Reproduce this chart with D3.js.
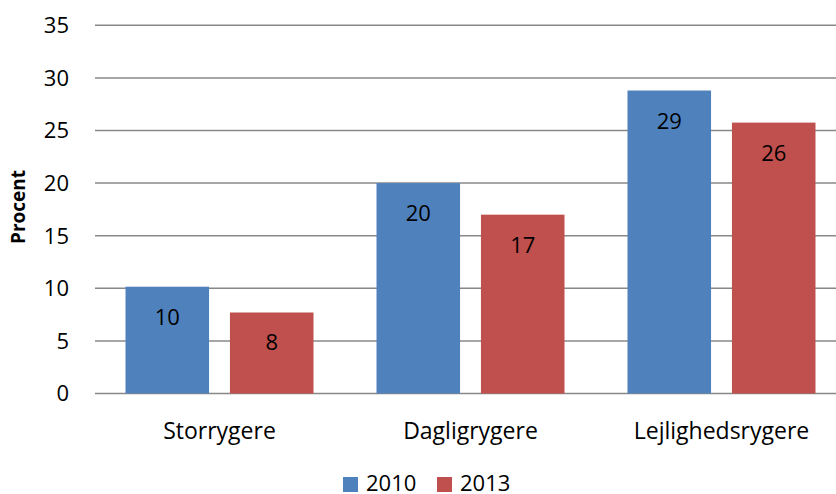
<!DOCTYPE html>
<html>
<head>
<meta charset="utf-8">
<script src="https://cdn.jsdelivr.net/npm/d3@7"></script>
<style>
  body { margin: 0; background: #fff; }
  text { font-family: "Open Sans", sans-serif; fill: #000; }
</style>
</head>
<body>
<script>
'use strict';

// chart data
const categories = ["Storrygere", "Dagligrygere", "Lejlighedsrygere"];
const seriesNames = ["2010", "2013"];
const values2010 = [10.15, 20.0, 28.8];
const values2013 = [7.7, 17.0, 25.75];
const labels2010 = ["10", "20", "29"];
const labels2013 = ["8", "17", "26"];
const yTicks = [0, 5, 10, 15, 20, 25, 30, 35];
const colors = ["#4f81bd", "#c0504d"];

const width = 836, height = 494;
const svg = d3.select("body").append("svg")
    .attr("width", width)
    .attr("height", height);

// scales
let x = d3.scaleBand()
    .domain(categories)
    .range([94, 847])
    .paddingInner(0)
    .paddingOuter(0);

let xInner = d3.scaleBand()
    .domain(seriesNames)
    .range([31.5, x.bandwidth() - 31.5])
    .paddingInner(0.2);

let y = d3.scaleLinear()
    .domain([0, 35])
    .range([393.5, 25.3]);

// gridlines
svg.append("g")
    .selectAll("line")
    .data(yTicks)
    .enter()
    .append("line")
        .attr("x1", 95)
        .attr("x2", width)
        .attr("y1", d => y(d))
        .attr("y2", d => y(d))
        .attr("stroke", "#888888")
        .attr("stroke-width", 1.5);

// y tick labels
svg.append("g")
    .selectAll("text")
    .data(yTicks)
    .enter()
    .append("text")
        .attr("x", 69)
        .attr("y", d => y(d))
        .attr("dy", "0.36em")
        .attr("text-anchor", "end")
        .attr("font-size", "22px")
        .text(d => d);

// y axis title
svg.append("text")
    .attr("transform", "translate(25, 207) rotate(-90)")
    .attr("text-anchor", "middle")
    .attr("font-size", "19px")
    .attr("font-weight", "bold")
    .text("Procent");

// bars
const series = [
    {name: seriesNames[0], values: values2010, labels: labels2010, color: colors[0]},
    {name: seriesNames[1], values: values2013, labels: labels2013, color: colors[1]}
];

series.forEach(function(s) {
    let g = svg.append("g");
    g.selectAll("rect")
        .data(categories)
        .enter()
        .append("rect")
            .attr("x", d => x(d) + xInner(s.name))
            .attr("width", xInner.bandwidth())
            .attr("y", (d, i) => y(s.values[i]))
            .attr("height", (d, i) => y(0) - y(s.values[i]))
            .attr("fill", s.color);
    g.selectAll("text")
        .data(categories)
        .enter()
        .append("text")
            .attr("x", d => x(d) + xInner(s.name) + xInner.bandwidth() / 2)
            .attr("y", (d, i) => y(s.values[i]) + 38)
            .attr("text-anchor", "middle")
            .attr("font-size", "22px")
            .text((d, i) => s.labels[i]);
});

// category labels
svg.append("g")
    .selectAll("text")
    .data(categories)
    .enter()
    .append("text")
        .attr("x", d => x(d) + x.bandwidth() / 2)
        .attr("y", 439)
        .attr("text-anchor", "middle")
        .attr("font-size", "23px")
        .text(d => d);

// legend
let legend = svg.append("g");
let legendX = [343, 437];
series.forEach(function(s, i) {
    legend.append("rect")
        .attr("x", legendX[i])
        .attr("y", 477)
        .attr("width", 15)
        .attr("height", 15)
        .attr("fill", s.color);
    legend.append("text")
        .attr("x", legendX[i] + 23)
        .attr("y", 491)
        .attr("font-size", "22px")
        .text(s.name);
});
</script>
</body>
</html>
